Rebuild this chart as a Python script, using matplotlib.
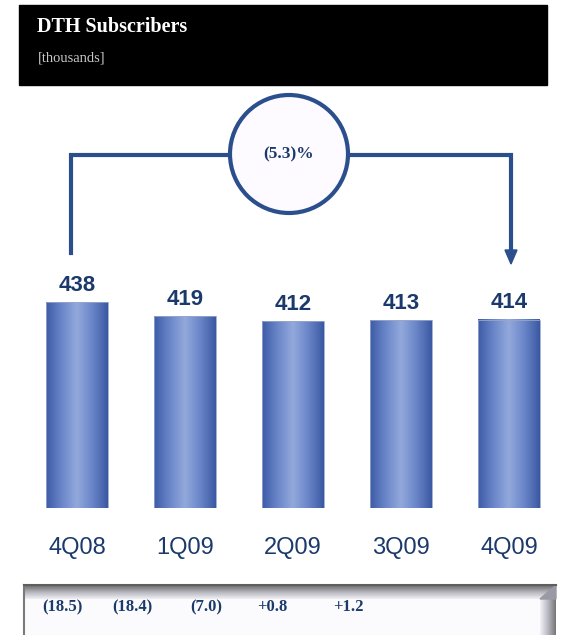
import numpy as np
import matplotlib.pyplot as plt
from matplotlib.colors import LinearSegmentedColormap
from matplotlib.patches import Rectangle, Circle, Polygon

# quarterly DTH subscriber base, thousands
quarters = ["4Q08", "1Q09", "2Q09", "3Q09", "4Q09"]
subscribers = [438, 419, 412, 413, 414]
net_adds = ["(18.5)", "(18.4)", "(7.0)", "+0.8", "+1.2"]
yoy_change = "(5.3)%"

NAVY = "#1b3a6b"
LINE = "#2a4f8c"

fig = plt.figure(figsize=(5.61, 6.35), dpi=100)

# overlay in pixel coordinates for the header, bracket and footer box
ov = fig.add_axes([0, 0, 1, 1])
ov.set_xlim(0, 561)
ov.set_ylim(635, 0)
ov.axis("off")

ov.add_patch(Rectangle((19, 5), 528, 80, color="black", zorder=1))
ov.text(37, 27, "DTH Subscribers", color="white", fontsize=14.5,
        fontweight="bold", family="Liberation Serif", va="center",
        ha="left", zorder=2)
ov.text(38, 58, "[thousands]", color="#c8c8c8", fontsize=10.5,
        family="Liberation Serif", va="center", ha="left", zorder=2)

# bars with a horizontal shaded fill
ax = fig.add_axes([23 / 561, (635 - 508) / 635, 540 / 561, 258 / 635])
px_per_unit = 0.73
base = 156
ax.set_xlim(-0.5, 4.5)
ax.set_ylim(base, base + 258 / px_per_unit)
ax.axis("off")

cmap = LinearSegmentedColormap.from_list(
    "bar", ["#3d5ca7", "#6a86c8", "#93a9dc", "#6a86c8", "#3b59a3"])
grad = np.linspace(0, 1, 200).reshape(1, -1)
width = 0.574
x = np.arange(len(quarters))
for xi, v in zip(x, subscribers):
    ax.imshow(grad, cmap=cmap, aspect="auto", zorder=2,
              extent=[xi - width / 2, xi + width / 2, base, v])
    ax.add_patch(Rectangle((xi - width / 2, base), width, v - base,
                           fill=False, edgecolor="#98a6cc", linewidth=0.6,
                           zorder=3))
    ax.text(xi, v + 17 / px_per_unit, str(v), ha="center", va="center",
            fontsize=16, fontweight="bold", color=NAVY,
            family="Liberation Sans", clip_on=False)
    ax.text(xi, base - 40 / px_per_unit, quarters[xi], ha="center",
            va="center", fontsize=17, color=NAVY,
            family="Liberation Sans", clip_on=False)

# bracket from first to last quarter with the change in the circle
cx, cy, r = 289, 154, 59
ov.plot([71, 71, cx - r], [253, 155, 155], color=LINE, lw=3,
        solid_joinstyle="miter", zorder=3)
ov.plot([cx + r, 511, 511], [155, 155, 252], color=LINE, lw=3,
        solid_joinstyle="miter", zorder=3)
ov.add_patch(Polygon([[505, 250], [517, 250], [511, 264]], closed=True,
                     color=LINE, zorder=3))
ov.add_patch(Circle((cx, cy), r, facecolor="#fdfbff", edgecolor=LINE,
                    lw=3, zorder=4))
ov.text(cx, cy, yoy_change, ha="center", va="center", fontsize=12.5,
        fontweight="bold", color=NAVY, family="Liberation Serif", zorder=5)

# footer box with bevelled frame
box_l, box_r, box_t, box_b = 24, 556, 585, 636
ov.add_patch(Rectangle((box_l, box_t), box_r - box_l, box_b - box_t,
                       facecolor="#fbfbfd", edgecolor="none", zorder=1))
top_grad = np.linspace(0, 1, 50).reshape(-1, 1)
ov.imshow(top_grad, cmap=LinearSegmentedColormap.from_list(
    "t", ["#6a6a6a", "#b4b4bc", "#f0f0f4"]), aspect="auto", zorder=2,
    extent=[box_l, box_r, box_t + 14, box_t])
right_grad = np.linspace(0, 1, 50).reshape(1, -1)
ov.imshow(right_grad, cmap=LinearSegmentedColormap.from_list(
    "r", ["#f2f2f6", "#b8b8c2", "#777777"]), aspect="auto", zorder=2,
    extent=[box_r - 16, box_r, box_b, box_t + 14])
ov.add_patch(Polygon([[box_r - 16, box_t + 14], [box_r, box_t],
                      [box_r, box_t + 14]], closed=True,
                     color="#9a9aa4", zorder=2))
ov.plot([box_l, box_l], [box_t, box_b], color="#7a7a7a", lw=1.5, zorder=3)
ov.plot([box_l, box_r], [box_t, box_t], color="#5e5e5e", lw=1.5, zorder=3)

adds_x = [62, 132, 206, 272, 348]
for xp, label in zip(adds_x, net_adds):
    ov.text(xp, 607, label, ha="center", va="center", fontsize=12,
            fontweight="bold", color=NAVY, family="Liberation Serif",
            zorder=4)

ov.set_xlim(0, 561)
ov.set_ylim(635, 0)
fig.savefig("out.png", dpi=100)
